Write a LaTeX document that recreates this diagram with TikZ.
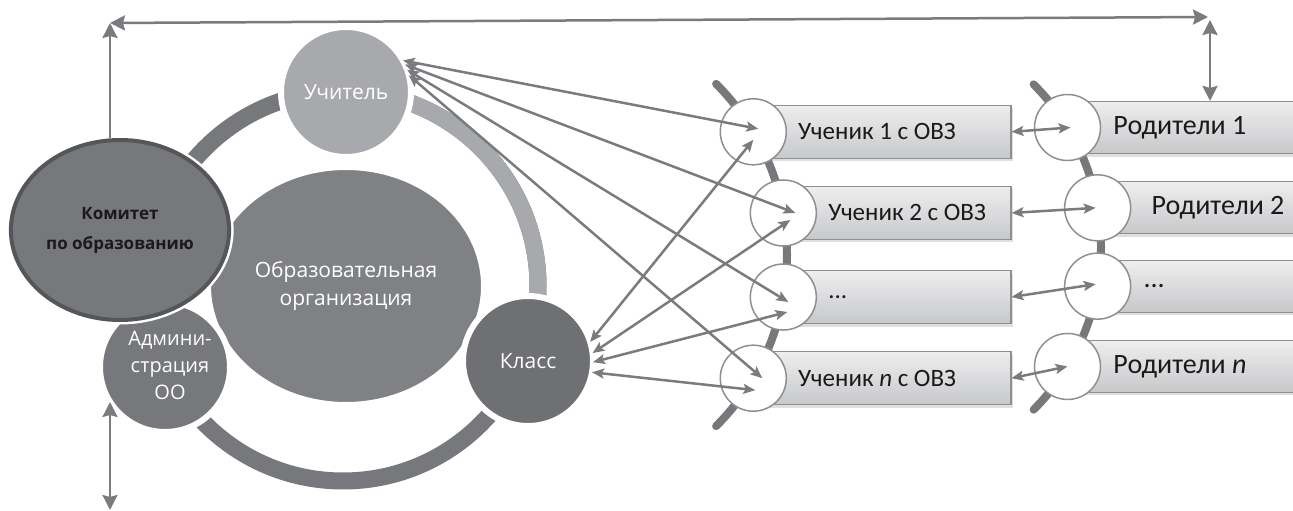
\documentclass[tikz,border=0pt]{standalone}
\usepackage{fontspec}
\setmainfont{Open Sans}
\newfontfamily\boxfont{Carlito}
\usetikzlibrary{arrows.meta,positioning,calc,shadows,shapes.geometric}

\definecolor{ringdark}{HTML}{77787B}
\definecolor{ringlight}{HTML}{A8A9AC}
\definecolor{komborder}{HTML}{55565A}
\definecolor{orgfill}{HTML}{808184}
\definecolor{classfill}{HTML}{6F7074}
\definecolor{linkgray}{HTML}{7A7B7E}
\definecolor{boxborder}{HTML}{8E8F91}
\definecolor{boxtop}{HTML}{EEEEEF}
\definecolor{boxbottom}{HTML}{C7C8CA}
\definecolor{textdark}{HTML}{1A1A1A}

\begin{document}
\begin{tikzpicture}[x=1pt,y=1pt]

  \tikzstyle{member}=[circle,draw=white,line width=6pt,minimum size=130pt,
                      inner sep=0pt,outer sep=0pt,text=white,align=center]
  \tikzstyle{pupil}=[circle,draw=boxborder,line width=1.5pt,fill=white,
                     minimum size=66pt,inner sep=0pt]
  \tikzstyle{bar}=[rectangle,draw=boxborder,line width=1.2pt,
                   top color=boxtop,bottom color=boxbottom,anchor=west,
                   drop shadow={shadow xshift=2pt,shadow yshift=-3pt,opacity=0.25}]
  \tikzstyle{stext}=[inner sep=0pt,text=textdark,font=\boxfont\fontsize{25}{30}\selectfont]
  \tikzstyle{ptext}=[inner sep=0pt,text=textdark,font=\boxfont\fontsize{28}{34}\selectfont]
  \tikzstyle{link}=[{Stealth[length=12pt,width=10pt,inset=2.5pt]}-{Stealth[length=12pt,width=10pt,inset=2.5pt]},
                    line width=2.5pt,draw=linkgray]
  \tikzstyle{corner}=[line width=2.5pt,draw=linkgray,
                      >={Stealth[length=15pt,width=15pt,inset=2pt]}]

  \useasboundingbox (0,0) rectangle (1293,511);

  % centres of the ring and of the two columns
  \coordinate (ringc) at (343,225);
  \coordinate (sarc)  at (545,256);
  \coordinate (parc)  at (871,264);

  % ring round the school
  \draw[line width=17pt,ringdark] (ringc) circle[radius=195];
  \draw[line width=17pt,ringlight] ($(ringc)+(89:195)$) arc[start angle=89,end angle=-22,radius=195];

  \node [ellipse,fill=orgfill,draw=white,line width=4pt,minimum width=274pt,minimum height=236pt,
         text=white,align=center,font=\fontsize{21}{28}\selectfont] (org) at (346,225)
        {Образовательная\\организация};
  \node [member,fill=ringlight,font=\fontsize{21}{28}\selectfont] (teacher) at (346,419) {Учитель};
  \node [member,fill=classfill,font=\fontsize{21}{28}\selectfont] (class) at (528,150) {Класс};
  \node [member,fill=ringdark] (admin) at (165,144) {};
  \node [ellipse,fill=ringdark,draw=komborder,line width=4pt,minimum width=212pt,minimum height=180pt,
         preaction={draw=white,line width=9pt},text=textdark,align=center,
         font=\bfseries\fontsize{17}{30}\selectfont] (kom) at (120,281)
        {Комитет\\по образованию};
  \node [text=white,align=center,font=\fontsize{20}{27}\selectfont] at ($(admin)+(5,2)$)
        {Админи-\\страция\\ОО};

  % pupils
  \draw[line width=8pt,ringdark,line cap=round] ($(sarc)+(45:242)$) arc[start angle=45,end angle=-45,radius=242];
  \coordinate (s1c) at ($(sarc)+(30.6:242)$);
  \coordinate (s2c) at ($(sarc)+(10:242)$);
  \coordinate (s3c) at ($(sarc)+(-10:242)$);
  \coordinate (s4c) at ($(sarc)+(-30.6:242)$);
  \node [bar,minimum width=257pt,minimum height=53pt] (sb1) at (s1c) {};
  \node [bar,minimum width=227pt,minimum height=53pt] (sb2) at (s2c) {};
  \node [bar,minimum width=227pt,minimum height=53pt] (sb3) at (s3c) {};
  \node [bar,minimum width=257pt,minimum height=53pt] (sb4) at (s4c) {};
  \node [pupil] (s1) at (s1c) {};
  \node [pupil] (s2) at (s2c) {};
  \node [pupil] (s3) at (s3c) {};
  \node [pupil] (s4) at (s4c) {};
  \node [stext,right=11pt of s1] {Ученик 1 с ОВЗ};
  \node [stext,right=11pt of s2] {Ученик 2 с ОВЗ};
  \node [stext,right=11pt of s3] {...};
  \node [stext,right=11pt of s4] {Ученик \textit{n} с ОВЗ};

  % parents
  \draw[line width=8pt,ringdark,line cap=round] ($(parc)+(45:230)$) arc[start angle=45,end angle=-45,radius=230];
  \coordinate (p1c) at ($(parc)+(31.3:230)$);
  \coordinate (p2c) at ($(parc)+(9.8:230)$);
  \coordinate (p3c) at ($(parc)+(-9.8:230)$);
  \coordinate (p4c) at ($(parc)+(-31.3:230)$);
  \node [bar,minimum width=240pt,minimum height=52pt] (pb1) at (p1c) {};
  \node [bar,minimum width=210pt,minimum height=52pt] (pb2) at (p2c) {};
  \node [bar,minimum width=210pt,minimum height=52pt] (pb3) at (p3c) {};
  \node [bar,minimum width=240pt,minimum height=52pt] (pb4) at (p4c) {};
  \node [pupil] (p1) at (p1c) {};
  \node [pupil] (p2) at (p2c) {};
  \node [pupil] (p3) at (p3c) {};
  \node [pupil] (p4) at (p4c) {};
  \node [ptext,right=12pt of p1] {Родители 1};
  \node [ptext,right=20pt of p2] {Родители 2};
  \node [ptext,right=12pt of p3] {...};
  \node [ptext,right=12pt of p4] {Родители \textit{n}};

  % teacher and class to every pupil
  \draw[link] (teacher.29) -- ($(s1)+(5,3)$);
  \draw[link] (teacher.25) -- ($(s2)+(12,0)$);
  \draw[link] (teacher.20) -- ($(s3)+(5,-5)$);
  \draw[link] (teacher.15) -- ($(s4)+(9,0)$);
  \draw[link] (class.17)  -- ($(s1)+(0,-8)$);
  \draw[link] (class.7)   -- ($(s2)+(7,-7)$);
  \draw[link] (class.-1)  -- ($(s3)+(4,-15)$);
  \draw[link] (class.-10) -- ($(s4)+(2,-12)$);

  % pupils to parents
  \draw[link] (sb1.east) -- ($(p1)+(3,0)$);
  \draw[link] (sb2.east) -- ($(p2)+(-2,0)$);
  \draw[link] (sb3.east) -- ($(p3)+(-2,2)$);
  \draw[link] (sb4.east) -- (p4.center);

  % frame arrows
  \coordinate (tl) at (110,488);
  \coordinate (tr) at (1208,494);
  \coordinate (tr2) at (1210,491);
  \coordinate (bl1) at (110,109);
  \coordinate (bl2) at (110,1);
  \draw[corner,<->] (tr) -- (tl);
  \draw[corner,->] (tl |- kom.north) -- (tl);
  \draw[corner,<->] (tr2) -- (tr2 |- pb1.north);
  \draw[corner,<->] (bl1) -- (bl2);

\end{tikzpicture}
\end{document}
